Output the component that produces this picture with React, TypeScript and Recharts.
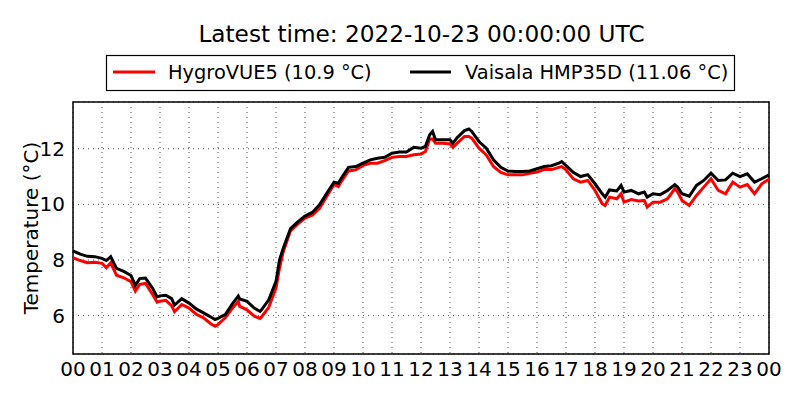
import React from 'react';
import {
  LineChart,
  Line,
  XAxis,
  YAxis,
  CartesianGrid,
  ReferenceArea,
} from 'recharts';

// 時刻 (時間, 0 = 00:00 UTC)
const hours = [
  0, 0.25, 0.5, 0.75, 1, 1.15, 1.3, 1.5, 1.75, 2, 2.15, 2.3, 2.5, 2.75, 2.9, 3, 3.2, 3.4, 3.5, 3.75,
  4, 4.25, 4.5, 4.75, 4.9, 5, 5.25, 5.5, 5.7, 5.75, 6, 6.25, 6.45, 6.5, 6.75, 7, 7.12, 7.25, 7.5, 7.75,
  8, 8.25, 8.5, 8.75, 9, 9.15, 9.25, 9.5, 9.75, 10, 10.25, 10.5, 10.75, 11, 11.25, 11.5, 11.75, 12,
  12.15, 12.3, 12.4, 12.5, 12.75, 13, 13.1, 13.25, 13.5, 13.65, 13.75, 14, 14.25, 14.5, 14.75, 15,
  15.25, 15.5, 15.75, 16, 16.25, 16.5, 16.75, 16.85, 17, 17.25, 17.5, 17.75, 18, 18.25, 18.35, 18.5,
  18.75, 18.9, 19, 19.25, 19.5, 19.7, 19.8, 20, 20.25, 20.5, 20.75, 20.85, 21, 21.25, 21.5, 21.75,
  22, 22.25, 22.5, 22.75, 23, 23.25, 23.5, 23.75, 24,
];

// HygroVUE5 (赤)
const hygroVue = [
  8.08, 7.98, 7.9, 7.92, 7.88, 7.72, 7.9, 7.45, 7.36, 7.22, 6.88, 7.12, 7.16, 6.75, 6.48, 6.52, 6.55, 6.36, 6.14, 6.4,
  6.27, 6.05, 5.92, 5.71, 5.62, 5.68, 5.92, 6.27, 6.51, 6.33, 6.21, 5.98, 5.9, 5.95, 6.3, 7.0, 7.7, 8.3, 9.05, 9.29,
  9.51, 9.61, 9.86, 10.28, 10.72, 10.64, 10.82, 11.2, 11.24, 11.4, 11.48, 11.48, 11.57, 11.69, 11.72, 11.72, 11.78, 11.81,
  11.9, 12.35, 12.35, 12.2, 12.2, 12.17, 12.05, 12.2, 12.44, 12.44, 12.38, 12.02, 11.78, 11.36, 11.15, 11.06,
  11.06, 11.06, 11.12, 11.16, 11.25, 11.25, 11.33, 11.36, 11.24, 10.92, 10.8, 10.86, 10.5, 10.02, 9.96, 10.26,
  10.2, 10.38, 10.08, 10.17, 10.12, 10.14, 9.9, 10.08, 10.08, 10.2, 10.56, 10.44, 10.14, 9.96, 10.32, 10.62,
  10.92, 10.5, 10.38, 10.8, 10.62, 10.71, 10.38, 10.74, 10.9,
];

// Vaisala HMP35D (黒)
const vaisala = [
  8.33, 8.21, 8.13, 8.12, 8.06, 7.98, 8.12, 7.7, 7.59, 7.44, 7.09, 7.33, 7.35, 6.97, 6.67, 6.71, 6.73, 6.61, 6.38, 6.61,
  6.45, 6.24, 6.1, 5.95, 5.86, 5.9, 6.04, 6.43, 6.7, 6.6, 6.51, 6.27, 6.15, 6.21, 6.57, 7.23, 8.0, 8.42, 9.13, 9.37,
  9.58, 9.71, 9.98, 10.4, 10.8, 10.76, 10.94, 11.33, 11.36, 11.48, 11.6, 11.66, 11.69, 11.84, 11.88, 11.88, 12.05, 12.02,
  12.08, 12.5, 12.62, 12.32, 12.32, 12.32, 12.2, 12.4, 12.65, 12.71, 12.62, 12.26, 12.02, 11.6, 11.33, 11.2,
  11.18, 11.18, 11.2, 11.28, 11.36, 11.39, 11.48, 11.54, 11.39, 11.15, 11.0, 11.07, 10.74, 10.38, 10.26, 10.52,
  10.48, 10.68, 10.44, 10.5, 10.38, 10.44, 10.26, 10.38, 10.35, 10.5, 10.71, 10.62, 10.38, 10.29, 10.68, 10.86,
  11.12, 10.86, 10.88, 11.12, 11.0, 11.1, 10.8, 10.92, 11.06,
];

const hourTicks = [0, 1, 2, 3, 4, 5, 6, 7, 8, 9, 10, 11, 12, 13, 14, 15, 16, 17, 18, 19, 20, 21, 22, 23, 24];
const hourLabels = [
  '00', '01', '02', '03', '04', '05', '06', '07', '08', '09', '10', '11',
  '12', '13', '14', '15', '16', '17', '18', '19', '20', '21', '22', '23', '00',
];
const tempTicks = [6, 8, 10, 12];

const seriesNames = ['HygroVUE5 (10.9 °C)', 'Vaisala HMP35D (11.06 °C)'];
const seriesColors = ['#ff0000', '#000000'];
const title = 'Latest time: 2022-10-23 00:00:00 UTC';
const yLabel = 'Temperature (°C)';

const FONT = '"DejaVu Sans", sans-serif';

const chartData = hours.map((h, i) => ({
  hour: h,
  hygro: hygroVue[i],
  vaisala: vaisala[i],
}));

const YLabel = (props: any) => {
  const vb = props.viewBox || {};
  const cy = (vb.y ?? 102) + (vb.height ?? 252) / 2;
  const cx = 31;
  return (
    <text
      x={cx}
      y={cy}
      transform={`rotate(-90, ${cx}, ${cy})`}
      textAnchor="middle"
      dominantBaseline="central"
      fontFamily={FONT}
      fontSize={20}
      fill="#000"
    >
      {yLabel}
    </text>
  );
};

export default function App() {
  return (
    <div style={{ position: 'absolute', left: 0, top: 0, width: 800, height: 400, background: '#fff' }}>
      <LineChart
        width={800}
        height={400}
        data={chartData}
        margin={{ top: 102, right: 31, bottom: 16, left: 0 }}
      >
        <CartesianGrid
          stroke="#000"
          strokeWidth={0.7}
          strokeDasharray="1 4"
        />
        <XAxis
          dataKey="hour"
          type="number"
          domain={[0, 24]}
          ticks={hourTicks}
          tickFormatter={(v: number) => hourLabels[hourTicks.indexOf(v)] ?? ''}
          interval={0}
          height={30}
          axisLine={false}
          tickLine={false}
          tick={{ fontSize: 20, fontFamily: FONT, fill: '#000' }}
        />
        <YAxis
          type="number"
          domain={[4.62, 13.68]}
          ticks={tempTicks}
          width={73}
          axisLine={false}
          tickLine={false}
          tick={{ fontSize: 20, fontFamily: FONT, fill: '#000' }}
          label={<YLabel />}
        />
        <Line
          type="linear"
          dataKey="hygro"
          stroke={seriesColors[0]}
          strokeWidth={3}
          dot={false}
          isAnimationActive={false}
        />
        <Line
          type="linear"
          dataKey="vaisala"
          stroke={seriesColors[1]}
          strokeWidth={3}
          dot={false}
          isAnimationActive={false}
        />
        <ReferenceArea
          x1={0}
          x2={24}
          y1={4.62}
          y2={13.68}
          fill="none"
          stroke="#000"
          strokeWidth={1.5}
          ifOverflow="visible"
        />
      </LineChart>
      <svg
        width={800}
        height={100}
        style={{ position: 'absolute', left: 0, top: 0, pointerEvents: 'none' }}
      >
        <text x={421.5} y={42} textAnchor="middle" fontFamily={FONT} fontSize={23.2} fill="#000">
          {title}
        </text>
        <rect x={106.5} y={55.5} width={628} height={35} fill="#fff" stroke="#000" strokeWidth={1.2} />
        <line x1={113} y1={72} x2={155} y2={72} stroke={seriesColors[0]} strokeWidth={3} />
        <text x={168} y={78.5} fontFamily={FONT} fontSize={19.4} fill="#000">
          {seriesNames[0]}
        </text>
        <line x1={410} y1={72} x2={451} y2={72} stroke={seriesColors[1]} strokeWidth={3} />
        <text x={465} y={78.5} fontFamily={FONT} fontSize={19.4} fill="#000">
          {seriesNames[1]}
        </text>
      </svg>
    </div>
  );
}
